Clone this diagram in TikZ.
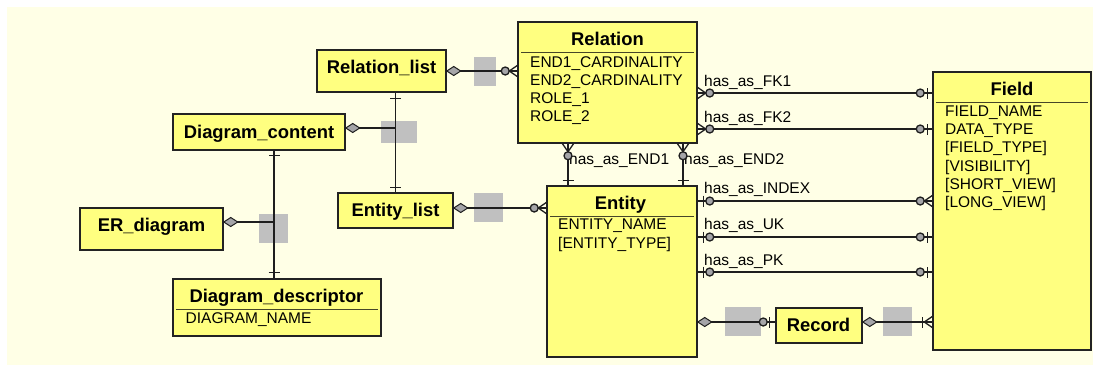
\documentclass[tikz,border=0pt]{standalone}
\usepackage{fontspec}
\setmainfont{Liberation Sans}
\definecolor{bgc}{RGB}{255,255,230}
\definecolor{boxfill}{RGB}{255,255,128}
\definecolor{boxline}{RGB}{35,35,35}
\definecolor{linec}{RGB}{30,30,30}
\definecolor{sepc}{RGB}{70,70,40}
\definecolor{phgray}{RGB}{192,192,192}
\definecolor{ringc}{RGB}{165,165,168}
\begin{document}
\begin{tikzpicture}[x=1pt,y=-1pt,
  conn/.style={draw=linec, line width=1.3pt},
  box/.style={draw=boxline, line width=1.5pt, fill=boxfill, inner sep=0pt},
  ttl/.style={font=\fontsize{18.4}{22}\selectfont\bfseries, inner sep=0pt, text height=13.2pt, text depth=0pt},
  attr/.style={font=\fontsize{15.5}{18.3}\selectfont, inner sep=0pt, align=left, anchor=north west},
  lbl/.style={font=\fontsize{15.5}{18.3}\selectfont, inner sep=0pt, anchor=base west},
  ph/.style={fill=phgray, inner sep=0pt},
  sep/.style={draw=sepc, line width=1pt},
  % end markers: origin on the box edge, +x pointing away from the box
  crowfoot/.pic={\draw[conn] (0,-5.5) -- (8,0) -- (0,5.5);},
  ring/.pic={\draw[conn, fill=ringc] (12,0) circle[radius=4pt];},
  tick/.pic={\draw[conn] (#1,-5.5) -- (#1,5.5);},
  agg/.pic={\draw[conn, line width=1pt, fill=ringc] (0,0) -- (7,4.5) -- (14,0) -- (7,-4.5) -- cycle;}]

\useasboundingbox (0,0) rectangle (1093,365);
\fill[bgc] (7,7) rectangle (1093,365);

% role-name placeholders
\node[ph, minimum width=22pt, minimum height=29pt] (g1) at (485,71.5) {};
\node[ph, minimum width=36pt, minimum height=22pt] (g2) at (399,132) {};
\node[ph, minimum width=29pt, minimum height=29pt] (g3) at (488.5,207.5) {};
\node[ph, minimum width=29pt, minimum height=29pt] (g4) at (273.5,228.5) {};
\node[ph, minimum width=36pt, minimum height=29pt] (g5) at (743,321.5) {};
\node[ph, minimum width=29pt, minimum height=29pt] (g6) at (897.5,321.5) {};

% entity boxes
\node[box, minimum width=129pt, minimum height=42pt] (rl) at (381.5,71) {};
\node[box, minimum width=179pt, minimum height=121pt] (rel) at (607.5,82.5) {};
\node[box, minimum width=172pt, minimum height=36pt] (dc) at (259,132) {};
\node[box, minimum width=115pt, minimum height=35pt] (el) at (395.5,210.5) {};
\node[box, minimum width=143pt, minimum height=42pt] (erd) at (151.5,229) {};
\node[box, minimum width=208pt, minimum height=57pt] (dd) at (277,307.5) {};
\node[box, minimum width=150pt, minimum height=171pt] (ent) at (622,271.5) {};
\node[box, minimum width=158pt, minimum height=278pt] (fld) at (1012,211) {};
\node[box, minimum width=86pt, minimum height=35pt] (rec) at (819,325.5) {};

% titles
\node[ttl] (rl-t) at (381.5,66.7) {Relation\_list};
\node[ttl] (rel-t) at (607.5,39) {Relation};
\node[ttl] (dc-t) at (259,131.7) {Diagram\_content};
\node[ttl] (el-t) at (395.5,210) {Entity\_list};
\node[ttl] (erd-t) at (151.5,225) {ER\_diagram};
\node[ttl] (dd-t) at (276.5,295.5) {Diagram\_descriptor};
\node[ttl] (ent-t) at (620.5,202.5) {Entity};
\node[ttl] (fld-t) at (1012,89) {Field};
\node[ttl] (rec-t) at (818.5,324.5) {Record};

% title separators
\draw[sep] (521,52) -- (694,52);
\draw[sep] (550,216) -- (694,216);
\draw[sep] (936,102) -- (1088,102);
\draw[sep] (176,309) -- (378,309);

% attributes
\node[attr] (rel-a) at (530,56) {END1\_CARDINALITY\\END2\_CARDINALITY\\ROLE\_1\\ROLE\_2};
\node[attr] (ent-a) at (558,219) {ENTITY\_NAME\\{[}ENTITY\_TYPE{]}};
\node[attr] (fld-a) at (945,105.5) {FIELD\_NAME\\DATA\_TYPE\\{[}FIELD\_TYPE{]}\\{[}VISIBILITY{]}\\{[}SHORT\_VIEW{]}\\{[}LONG\_VIEW{]}};
\node[attr] (dd-a) at (185.5,312.3) {DIAGRAM\_NAME};

% junctions and connector tracks
\coordinate (j1) at (395.5,128);
\coordinate (j2) at (274,222);
\coordinate (yel) at (0,208);
\coordinate (x1) at (568,0);
\coordinate (x2) at (683,0);
\coordinate (yfk1) at (0,93);
\coordinate (yfk2) at (0,129);
\coordinate (yidx) at (0,201);
\coordinate (yuk) at (0,237);
\coordinate (ypk) at (0,272);
\coordinate (yrec) at (0,322);

% connector lines
\draw[conn] (rl.east) -- (rl.east -| rel.west);
\draw[conn] (rl.south -| el.north) -- (el.north);
\draw[conn] (dc.east |- j1) -- (j1);
\draw[conn] (dc.south -| j2) -- (dd.north -| j2);
\draw[conn] (erd.east |- j2) -- (j2);
\draw[conn] (el.east |- yel) -- (ent.west |- yel);
\draw[conn] (rel.south -| x1) -- (ent.north -| x1);
\draw[conn] (rel.south -| x2) -- (ent.north -| x2);
\draw[conn] (rel.east |- yfk1) -- (fld.west |- yfk1);
\draw[conn] (rel.east |- yfk2) -- (fld.west |- yfk2);
\draw[conn] (ent.east |- yidx) -- (fld.west |- yidx);
\draw[conn] (ent.east |- yuk) -- (fld.west |- yuk);
\draw[conn] (ent.east |- ypk) -- (fld.west |- ypk);
\draw[conn] (ent.east |- yrec) -- (rec.west |- yrec);
\draw[conn] (rec.east |- yrec) -- (fld.west |- yrec);

% relationship names
\node[lbl] (l-fk1) at (704,86.7) {has\_as\_FK1};
\node[lbl] (l-fk2) at (704,122.7) {has\_as\_FK2};
\node[lbl] (l-end1) at (569,164) {has\_as\_END1};
\node[lbl] (l-end2) at (684,164) {has\_as\_END2};
\node[lbl] (l-idx) at (704,193.3) {has\_as\_INDEX};
\node[lbl] (l-uk) at (704,229.3) {has\_as\_UK};
\node[lbl] (l-pk) at (704,265) {has\_as\_PK};

% end markers
\pic at (rl.east) {agg};
\pic[rotate=180] at (rl.east -| rel.west) {crowfoot};
\pic[rotate=180] at (rl.east -| rel.west) {ring};

\pic[rotate=-90] at (rl.south -| el.north) {tick=6};
\pic[rotate=90] at (el.north) {tick=5};

\pic at (dc.east |- j1) {agg};

\pic[rotate=-90] at (dc.south -| j2) {tick=5};
\pic[rotate=90] at (dd.north -| j2) {tick=6};
\pic at (erd.east |- j2) {agg};

\pic at (el.east |- yel) {agg};
\pic[rotate=180] at (ent.west |- yel) {crowfoot};
\pic[rotate=180] at (ent.west |- yel) {ring};

\pic[rotate=-90] at (rel.south -| x1) {crowfoot};
\pic[rotate=-90] at (rel.south -| x1) {ring};
\pic[rotate=90] at (ent.north -| x1) {tick=5};
\pic[rotate=-90] at (rel.south -| x2) {crowfoot};
\pic[rotate=-90] at (rel.south -| x2) {ring};
\pic[rotate=90] at (ent.north -| x2) {tick=5};

\pic at (rel.east |- yfk1) {crowfoot};
\pic at (rel.east |- yfk1) {ring};
\pic[rotate=180] at (fld.west |- yfk1) {tick=5};
\pic[rotate=180] at (fld.west |- yfk1) {ring};
\pic at (rel.east |- yfk2) {crowfoot};
\pic at (rel.east |- yfk2) {ring};
\pic[rotate=180] at (fld.west |- yfk2) {tick=5};
\pic[rotate=180] at (fld.west |- yfk2) {ring};

\pic at (ent.east |- yidx) {tick=6};
\pic at (ent.east |- yidx) {ring};
\pic[rotate=180] at (fld.west |- yidx) {crowfoot};
\pic[rotate=180] at (fld.west |- yidx) {ring};
\pic at (ent.east |- yuk) {tick=6};
\pic at (ent.east |- yuk) {ring};
\pic[rotate=180] at (fld.west |- yuk) {tick=5};
\pic[rotate=180] at (fld.west |- yuk) {ring};
\pic at (ent.east |- ypk) {tick=6};
\pic at (ent.east |- ypk) {ring};
\pic[rotate=180] at (fld.west |- ypk) {tick=5};
\pic[rotate=180] at (fld.west |- ypk) {ring};

\pic at (ent.east |- yrec) {agg};
\pic[rotate=180] at (rec.west |- yrec) {tick=6};
\pic[rotate=180] at (rec.west |- yrec) {ring};
\pic at (rec.east |- yrec) {agg};
\pic[rotate=180] at (fld.west |- yrec) {tick=10};
\pic[rotate=180] at (fld.west |- yrec) {crowfoot};
\end{tikzpicture}
\end{document}
